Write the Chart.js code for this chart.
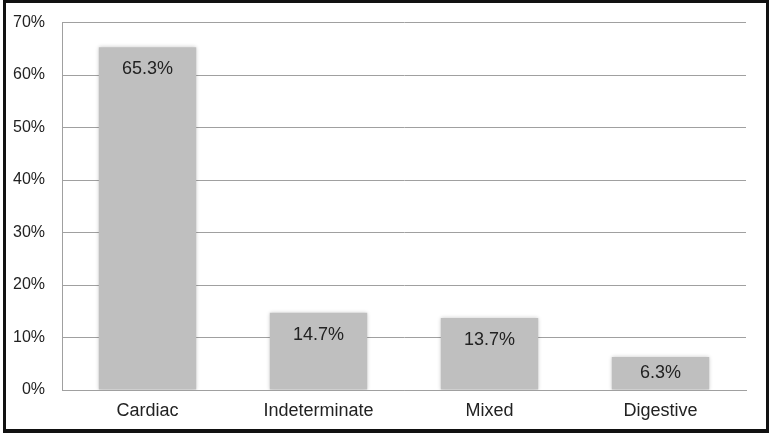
<!DOCTYPE html>
<html>
<head>
<meta charset="utf-8">
<script src="https://cdn.jsdelivr.net/npm/chart.js@4/dist/chart.umd.min.js"></script>
<style>
  body { margin: 0; background: #fff; }
  #wrap { position: relative; width: 771px; height: 437px; }
  #frame {
    position: absolute; left: 3px; top: 0; width: 766px; height: 433px;
    box-sizing: border-box; border: 3px solid #111; border-bottom-width: 4px;
    pointer-events: none;
  }
</style>
</head>
<body>
<div id="wrap">
  <canvas id="typesChart"></canvas>
  <div id="frame"></div>
</div>
<script>
let categories = ['Cardiac', 'Indeterminate', 'Mixed', 'Digestive'];
let percentValues = [65.3, 14.7, 13.7, 6.3];
let tickMax = 70;
let tickStep = 10;

// soft shadow around the bars, like the original
const barShadow = {
    id: 'barShadow',
    beforeDatasetsDraw(chart) {
        chart.ctx.save();
        chart.ctx.shadowColor = 'rgba(0,0,0,0.22)';
        chart.ctx.shadowBlur = 4;
    },
    afterDatasetsDraw(chart) {
        chart.ctx.restore();
    }
};

// draw the % value inside the top of each bar
const barLabels = {
    id: 'barLabels',
    afterDatasetsDraw(chart) {
        const ctx = chart.ctx;
        const meta = chart.getDatasetMeta(0);
        ctx.save();
        ctx.font = '18px "Liberation Sans", Arial, sans-serif';
        ctx.fillStyle = '#222';
        ctx.textAlign = 'center';
        ctx.textBaseline = 'middle';
        meta.data.forEach((bar, i) => {
            let y = Math.min(bar.y + 22, (bar.y + bar.base) / 2);
            ctx.fillText(percentValues[i].toFixed(1) + '%', bar.x, y);
        });
        ctx.restore();
    }
};

const ctx = document.getElementById('typesChart').getContext('2d');
let typesChart = new Chart(ctx, {
    type: 'bar',
    data: {
        labels: categories,
        datasets: [{
            data: percentValues,
            backgroundColor: '#bfbfbf',
            borderWidth: 0,
            categoryPercentage: 1,
            barPercentage: 0.57
        }]
    },
    options: {
        responsive: true,
        maintainAspectRatio: false,
        animation: false,
        layout: { padding: { left: 0, right: 25, top: 22.5, bottom: 0 } },
        plugins: {
            legend: { display: false },
            tooltip: { enabled: false }
        },
        scales: {
            x: {
                grid: { display: false, drawTicks: false },
                border: { display: true, color: '#a0a0a0' },
                ticks: {
                    color: '#222',
                    padding: 10,
                    font: { family: '"Liberation Sans", Arial, sans-serif', size: 18 }
                },
                afterFit(scale) { scale.height = 47; }
            },
            y: {
                min: 0,
                max: tickMax,
                grid: { color: '#a0a0a0', drawTicks: false },
                border: { display: true, color: '#a0a0a0' },
                ticks: {
                    stepSize: tickStep,
                    color: '#222',
                    padding: 17,
                    font: { family: '"Liberation Sans", Arial, sans-serif', size: 16 },
                    callback: (v) => v + '%'
                },
                afterFit(scale) {
                    scale.width = 62;
                    scale.paddingTop = 0;
                    scale.paddingBottom = 0;
                }
            }
        }
    },
    plugins: [barShadow, barLabels]
});
</script>
</body>
</html>
